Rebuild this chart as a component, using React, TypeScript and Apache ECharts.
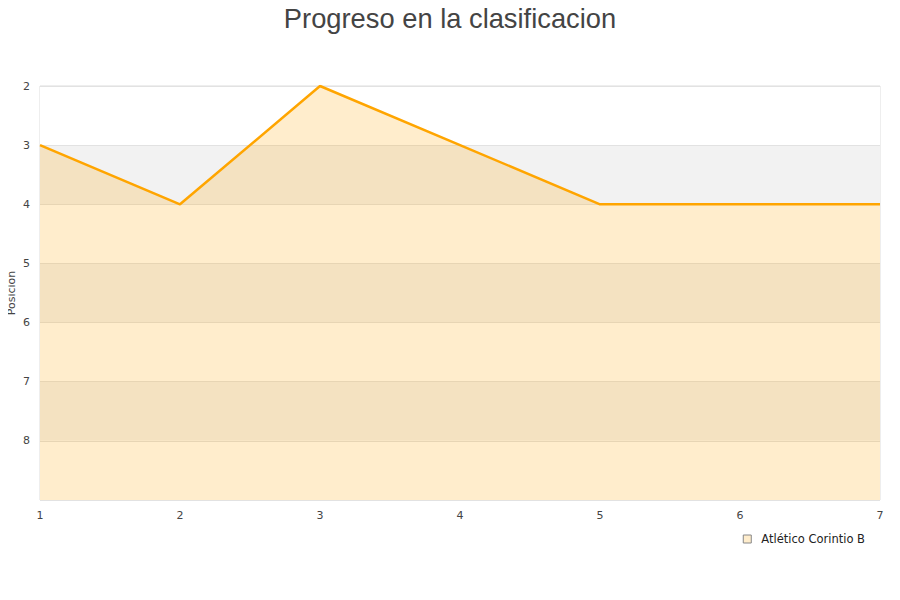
import React, { useEffect, useRef } from "react";
import * as echarts from "echarts";

const jornadas = ["1", "2", "3", "4", "5", "6", "7"];
const posiciones = [3, 4, 2, 3, 4, 4, 4];
const teamName = "Atlético Corintio B";
const titleText = "Progreso en la clasificacion";
const yName = "Posicion";

export default function App() {
  const ref = useRef<HTMLDivElement>(null);
  useEffect(() => {
    const chart = echarts.init(ref.current!, null, { renderer: "svg" });
    chart.setOption({
      animation: false,
      textStyle: { fontFamily: "DejaVu Sans" },
      title: {
        text: titleText,
        left: "center",
        top: 0,
        textStyle: { fontSize: 27.3, fontWeight: "normal", color: "#444", fontFamily: "Liberation Sans" },
      },
      grid: {
        left: 40,
        right: 20,
        top: 86,
        bottom: 100,
        show: true,
        borderColor: "#ddd",
        borderWidth: 1,
        outerBoundsMode: "none",
        containLabel: false,
      },
      graphic: [
        {
          type: "text",
          x: 11,
          y: 293,
          rotation: Math.PI / 2,
          style: {
            text: yName,
            fill: "#444",
            fontSize: 11,
            fontFamily: "DejaVu Sans",
            align: "center",
            verticalAlign: "middle",
          },
        },
      ],
      legend: {
        right: 30,
        top: 528,
        itemWidth: 8,
        itemHeight: 8,
        icon: "rect",
        textStyle: { fontSize: 11.5, color: "#222", padding: [0, 0, 0, 5] },
        data: [{ name: teamName, itemStyle: { color: "#ffedcc", borderColor: "#888", borderWidth: 1 } }],
      },
      xAxis: {
        type: "category",
        data: jornadas,
        boundaryGap: false,
        axisLine: { show: false },
        axisTick: { show: false },
        axisLabel: { color: "#444", fontSize: 11, margin: 10 },
        splitLine: { show: false },
      },
      yAxis: {
        type: "value",
        inverse: true,
        min: 2,
        max: 9,
        interval: 1,
        axisLine: { show: false },
        axisTick: { show: false },
        axisLabel: {
          color: "#444",
          fontSize: 11,
          margin: 10,
          formatter: (v: number) => (v === 9 ? "" : String(v)),
        },
        splitLine: { show: true, lineStyle: { color: "#e2e2e2" } },
        splitArea: { show: true, areaStyle: { color: ["#ffffff", "#f2f2f2"] } },
      },
      series: [
        {
          name: teamName,
          type: "line",
          data: posiciones,
          symbol: "none",
          lineStyle: { color: "#ffa500", width: 2.5 },
          itemStyle: { color: "#ffa500" },
          areaStyle: { color: "#ffa500", opacity: 0.2, origin: "end" },
        },
      ],
    });
    return () => chart.dispose();
  }, []);
  return <div ref={ref} style={{ width: 900, height: 600, margin: -8 }} />;
}
